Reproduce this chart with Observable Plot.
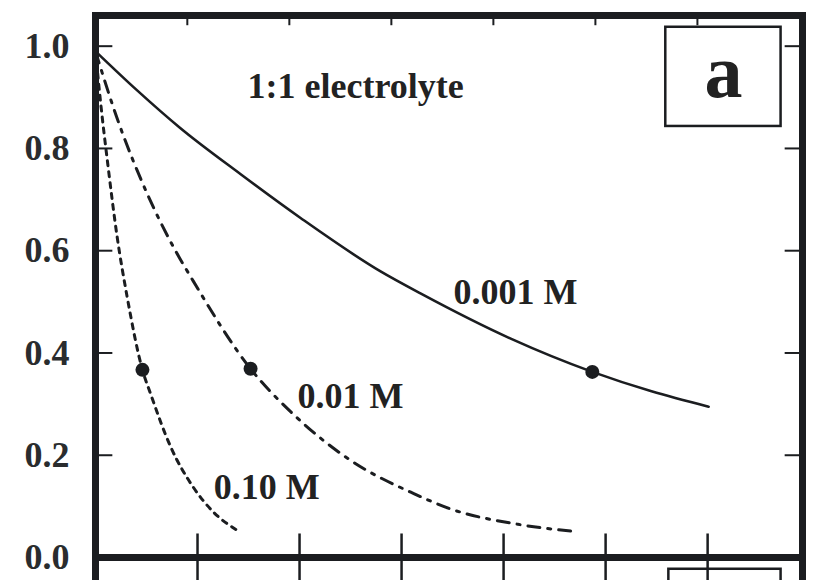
<!DOCTYPE html>
<html>
<head>
<meta charset="utf-8">
<script src="https://cdn.jsdelivr.net/npm/d3@7"></script>
<script src="https://cdn.jsdelivr.net/npm/@observablehq/plot@0.6"></script>
<style>
  html, body { margin: 0; padding: 0; background: #fff; }
</style>
</head>
<body>
<div id="chart"></div>
<script>
// Axis limits and tick positions
const xMax = 6.93;
const yMax = 1.06;
const xTicks = [1, 2, 3, 4, 5, 6];
const topTicks = [0.9, 1.9, 2.9, 3.9, 4.9, 5.9];
const yTicks = [0, 0.2, 0.4, 0.6, 0.8, 1.0];
const sideTicks = [0.2, 0.4, 0.6, 0.8, 1.0];

// 0.001 M curve (solid)
const dist001 = [0, 0.4, 0.83, 1.42, 2.01, 2.79, 3.19, 4.07, 4.87, 5.45, 6.01];
const val001  = [0.99, 0.915, 0.84, 0.75, 0.664, 0.56, 0.516, 0.428, 0.363, 0.325, 0.295];

// 0.01 M curve (dash-dot)
const dist01 = [0, 0.21, 0.51, 0.77, 0.96, 1.52, 1.94, 2.5, 3.12, 3.48, 4.14, 4.69];
const val01  = [0.99, 0.86, 0.71, 0.605, 0.54, 0.369, 0.28, 0.19, 0.125, 0.095, 0.065, 0.051];

// 0.10 M curve (dotted)
const dist10 = [0, 0.05, 0.12, 0.21, 0.31, 0.46, 0.54, 0.74, 0.96, 1.15, 1.39];
const val10  = [0.99, 0.89, 0.77, 0.63, 0.51, 0.367, 0.32, 0.215, 0.137, 0.09, 0.053];

// Marked points (value 1/e) on each curve
const markDist = [4.87, 1.52, 0.46];
const markVal  = [0.363, 0.369, 0.367];

// Curve labels
const labelText = ["1:1 electrolyte", "0.001 M", "0.01 M", "0.10 M"];
const labelX    = [1.49, 3.51, 1.98, 1.16];
const labelY    = [0.922, 0.519, 0.315, 0.137];

// Panel tag box
const tagText = "a";
const tagBox = {x1: 5.59, x2: 6.72, y1: 0.843, y2: 1.037};
const nextTagBox = {x1: 5.62, x2: 6.72, y1: -0.3, y2: -0.023};

const toRows = (xs, ys) => xs.map((x, i) => ({x, y: ys[i]}));
const ink = "#1b1d20";

const chart = Plot.plot({
  width: 817,
  height: 580,
  marginLeft: 95,
  marginRight: 15,
  marginTop: 15,
  marginBottom: 23,
  style: {fontFamily: "'Liberation Serif', 'DejaVu Serif', serif", fontWeight: "bold", background: "#fff", color: ink},
  x: {domain: [0, xMax], axis: null},
  y: {domain: [0, yMax], axis: null},
  marks: [
    // frame continuation into the panel below
    Plot.ruleX([0, xMax], {y1: 0, y2: -0.06, stroke: ink, strokeWidth: 7, clip: false}),
    Plot.rect([nextTagBox], {x1: "x1", x2: "x2", y1: "y1", y2: "y2", fill: "none", stroke: ink, strokeWidth: 2.5}),
    // bottom ticks crossing the axis
    Plot.ruleX(xTicks, {y1: -0.06, y2: 0.046, stroke: ink, strokeWidth: 2.5}),
    // top ticks
    Plot.ruleX(topTicks, {y1: yMax, y2: yMax - 0.02, stroke: ink, strokeWidth: 2}),
    // left and right inward ticks
    Plot.ruleY(sideTicks, {x1: 0, x2: 0.17, stroke: ink, strokeWidth: 2}),
    Plot.ruleY(sideTicks, {x1: xMax - 0.17, x2: xMax, stroke: ink, strokeWidth: 2}),
    Plot.frame({stroke: ink, strokeWidth: 7}),
    Plot.axisY({ticks: yTicks, tickSize: 0, tickPadding: 26, tickFormat: d3.format(".1f"),
      fontSize: 36, fontWeight: "bold", fill: "#2a2c2e", label: null}),
    // curves
    Plot.line(toRows(dist001, val001), {x: "x", y: "y", curve: "monotone-x", stroke: ink, strokeWidth: 2.6}),
    Plot.line(toRows(dist01, val01), {x: "x", y: "y", curve: "monotone-x", stroke: ink, strokeWidth: 3,
      strokeDasharray: "12,8,3,8"}),
    Plot.line(toRows(dist10, val10), {x: "x", y: "y", curve: "monotone-x", stroke: ink, strokeWidth: 3,
      strokeDasharray: "5,6"}),
    Plot.dot(toRows(markDist, markVal), {x: "x", y: "y", r: 7, fill: ink, stroke: "none"}),
    // labels
    Plot.text(labelText.map((t, i) => ({t, x: labelX[i], y: labelY[i]})), {
      x: "x", y: "y", text: "t", textAnchor: "start", fontSize: 36, fontWeight: "bold", fill: "#222"
    }),
    // panel tag
    Plot.rect([tagBox], {x1: "x1", x2: "x2", y1: "y1", y2: "y2", fill: "#fff", stroke: ink, strokeWidth: 2.5}),
    Plot.text([tagText], {x: (tagBox.x1 + tagBox.x2) / 2, y: (tagBox.y1 + tagBox.y2) / 2, text: d => d,
      fontSize: 76, fontWeight: "bold", fill: "#222", dy: -4})
  ]
});

document.getElementById("chart").append(chart);
</script>
</body>
</html>
